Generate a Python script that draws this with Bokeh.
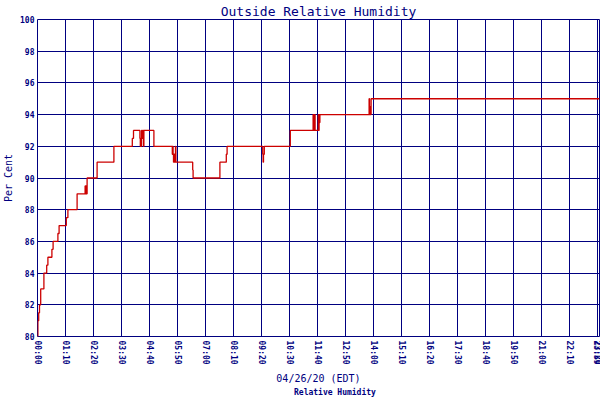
from bokeh.plotting import figure
from bokeh.layouts import column
from bokeh.models import FixedTicker, Legend, LegendItem, Range1d
from bokeh.embed import file_html
from bokeh.resources import INLINE

# ---- data ----
minutes = [0, 1, 3, 5, 8, 16, 23, 26, 36, 39,
           51, 54, 72, 76, 99, 119, 120, 121, 122, 124,
           149, 191, 237, 240, 256, 257, 258, 259, 260, 261,
           262, 263, 264, 265, 266, 291, 337, 338, 339, 340,
           341, 342, 343, 344, 345, 346, 388, 389, 456, 472,
           474, 563, 564, 565, 567, 632, 689, 690, 691, 692,
           693, 694, 702, 703, 704, 705, 706, 829, 830, 831,
           832, 834, 1405]
humidity = [80, 81, 81.5, 82, 83, 84, 84.5, 85, 85.5, 86,
            86.5, 87, 87.5, 88, 89, 89.5, 89, 89.5, 89, 90,
            91, 92, 92.5, 93, 92.5, 92, 92.5, 92, 93, 92.5,
            93, 92.5, 93, 92, 93, 92, 91.5, 92, 91.5, 91,
            91.5, 91, 91.5, 91, 92, 91, 90.5, 90, 91, 91.5,
            92, 91.5, 91, 91.5, 92, 93, 94, 93, 94, 93,
            94, 93, 94, 93, 94, 93.5, 94, 95, 94, 94.5,
            94, 95, 95]

tick_minutes = [0, 70, 140, 210, 280, 350, 420, 490, 560, 630, 700,
                770, 840, 910, 980, 1050, 1120, 1190, 1260, 1330, 1400, 1405]
tick_labels = ["00:00", "01:10", "02:20", "03:30", "04:40", "05:50", "07:00",
               "08:10", "09:20", "10:30", "11:40", "12:50", "14:00", "15:10",
               "16:20", "17:30", "18:40", "19:50", "21:00", "22:10", "23:20", "23:59"]
y_ticks = [80, 82, 84, 86, 88, 90, 92, 94, 96, 98, 100]

NAVY = "#000080"
RED = "#cc0000"
MONO = "DejaVu Sans Mono"

p = figure(frame_width=562, frame_height=317, output_backend="svg", toolbar_location=None,
           x_range=Range1d(0, 1405), y_range=Range1d(80, 100),
           min_border_left=29, min_border_right=1, min_border_top=12,
           min_border_bottom=50)

p.title.text = "Outside Relative Humidity"
p.title.align = "center"
p.title.text_font = MONO
p.title.text_font_size = "13px"
p.title.text_font_style = "normal"
p.title.text_color = NAVY
p.title.standoff = 2

p.step(minutes, humidity, mode="after", line_color=RED, line_width=1.3)

p.outline_line_color = NAVY
p.outline_line_width = 1
p.outline_line_alpha = 1

for ax in (p.xaxis[0], p.yaxis[0]):
    ax.axis_line_color = None
    ax.major_tick_out = 0
    ax.major_tick_in = 0
    ax.minor_tick_out = 0
    ax.minor_tick_in = 0
    ax.major_label_text_font = MONO
    ax.major_label_text_font_size = "8px"
    ax.major_label_text_font_style = "bold"
    ax.major_label_text_color = NAVY
    ax.axis_label_text_font = MONO
    ax.axis_label_text_font_size = "10px"
    ax.axis_label_text_font_style = "normal"
    ax.axis_label_text_color = NAVY

xa = p.xaxis[0]
xa.ticker = FixedTicker(ticks=tick_minutes)
xa.major_label_overrides = {m: l for m, l in zip(tick_minutes, tick_labels)}
xa.major_label_orientation = "vertical"
xa.major_label_standoff = 4
xa.axis_label = "04/26/20 (EDT)"
xa.axis_label_standoff = 5

ya = p.yaxis[0]
ya.ticker = FixedTicker(ticks=y_ticks)
ya.major_label_standoff = 3
ya.axis_label = "Per Cent"
ya.axis_label_standoff = 3

for g in (p.xgrid[0], p.ygrid[0]):
    g.grid_line_color = NAVY
    g.grid_line_alpha = 1
    g.grid_line_width = 1

# small strip below the chart that holds the legend
p2 = figure(width=592, height=13, output_backend="svg", toolbar_location=None,
            x_axis_location=None, y_axis_location=None, min_border=0)
p2.outline_line_color = None
p2.grid.visible = False
key = p2.line([], [], line_color=RED, line_width=2)

legend = Legend(items=[LegendItem(label="Relative Humidity", renderers=[key])],
                orientation="horizontal", location=(241, 2),
                border_line_color=None, background_fill_alpha=0,
                glyph_width=13, glyph_height=8, label_standoff=3,
                padding=0, margin=0, spacing=0,
                label_text_font=MONO, label_text_font_size="8px",
                label_text_font_style="bold", label_text_color=NAVY,
                label_height=8, label_text_line_height=1.0)
p2.add_layout(legend, "center")

layout = column(p, p2, spacing=0)
open("out.html", "w").write(file_html(layout, INLINE))
